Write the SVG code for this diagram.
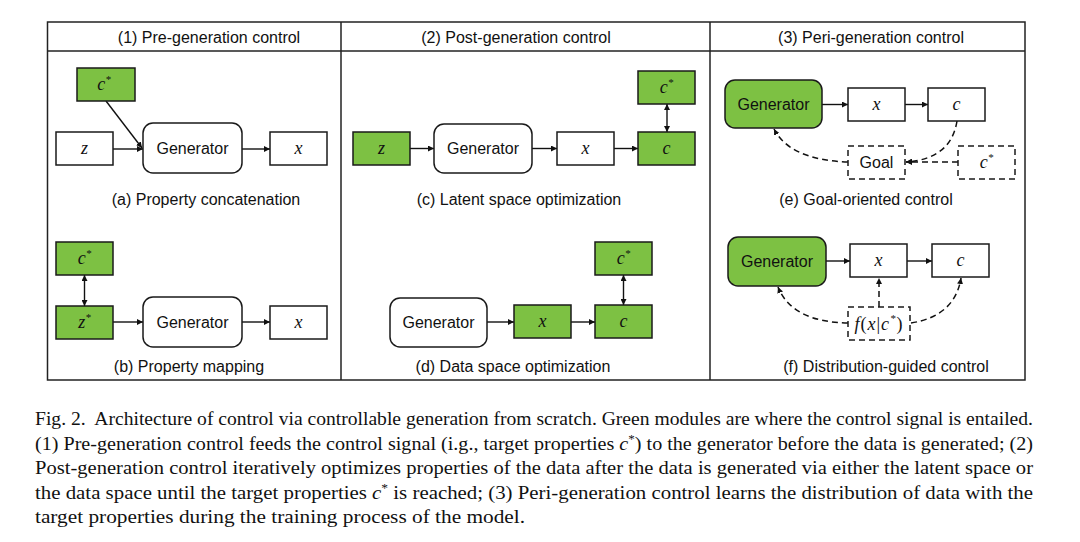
<svg xmlns="http://www.w3.org/2000/svg" width="1080" height="542" viewBox="0 0 1080 542">
<defs>
<marker id="ah" viewBox="0 0 10 10" refX="10" refY="5" markerWidth="6" markerHeight="6" markerUnits="userSpaceOnUse" orient="auto-start-reverse">
<path d="M0,0 L10,5 L0,10 z" fill="#111"/>
</marker>
<style>
.frame{fill:none;stroke:#222;stroke-width:1.5}
.box{fill:#fff;stroke:#1a1a1a;stroke-width:1.5}
.g{fill:#7dc143}
.dash{fill:none;stroke:#1a1a1a;stroke-width:1.5;stroke-dasharray:6 4}
.ln{fill:none;stroke:#111;stroke-width:1.4}
.dl{fill:none;stroke:#111;stroke-width:1.5;stroke-dasharray:6 4}
.t{font-family:"Liberation Sans",Arial,sans-serif;font-size:16px;fill:#111}
.m{font-family:"Liberation Serif","Times New Roman",serif;font-style:italic;font-size:18px;fill:#111}
.cap{font-family:"Liberation Serif","Times New Roman",serif;font-size:18.5px;fill:#111}
</style>
</defs>
<rect x="0" y="0" width="1080" height="542" fill="#fff"/>
<g id="frame">
<rect class="frame" x="47.5" y="22" width="977.5" height="358"/>
<line class="frame" x1="47.5" y1="51" x2="1025" y2="51"/>
<line class="frame" x1="341" y1="22" x2="341" y2="380"/>
<line class="frame" x1="710" y1="22" x2="710" y2="380"/>
<text class="t" x="209" y="43" text-anchor="middle">(1) Pre-generation control</text>
<text class="t" x="516" y="43" text-anchor="middle">(2) Post-generation control</text>
<text class="t" x="871" y="43" text-anchor="middle">(3) Peri-generation control</text>
</g>
<g id="connectors">
<line class="ln" x1="113" y1="149" x2="143" y2="149" marker-end="url(#ah)"/>
<line class="ln" x1="242" y1="149" x2="270" y2="149" marker-end="url(#ah)"/>
<line class="ln" x1="106" y1="101" x2="142" y2="148" marker-end="url(#ah)"/>
<line class="ln" x1="84.5" y1="275" x2="84.5" y2="306" marker-start="url(#ah)" marker-end="url(#ah)"/>
<line class="ln" x1="113" y1="322" x2="143" y2="322" marker-end="url(#ah)"/>
<line class="ln" x1="242" y1="322" x2="270" y2="322" marker-end="url(#ah)"/>
<line class="ln" x1="410" y1="148.5" x2="434" y2="148.5" marker-end="url(#ah)"/>
<line class="ln" x1="532" y1="148.5" x2="557" y2="148.5" marker-end="url(#ah)"/>
<line class="ln" x1="614" y1="148.5" x2="638" y2="148.5" marker-end="url(#ah)"/>
<line class="ln" x1="667" y1="104" x2="667" y2="132" marker-start="url(#ah)" marker-end="url(#ah)"/>
<line class="ln" x1="487" y1="322" x2="514" y2="322" marker-end="url(#ah)"/>
<line class="ln" x1="571" y1="322" x2="595" y2="322" marker-end="url(#ah)"/>
<line class="ln" x1="623.5" y1="275" x2="623.5" y2="305" marker-start="url(#ah)" marker-end="url(#ah)"/>
<line class="ln" x1="822" y1="104.5" x2="848" y2="104.5" marker-end="url(#ah)"/>
<line class="ln" x1="905" y1="104.5" x2="928" y2="104.5" marker-end="url(#ah)"/>
<path class="dl" d="M957,121 Q951,159 906,162" marker-end="url(#ah)"/>
<line class="dl" x1="958" y1="162" x2="906" y2="162" marker-end="url(#ah)"/>
<path class="dl" d="M848,162 Q790,160 774,129" marker-end="url(#ah)"/>
<line class="ln" x1="826" y1="261" x2="850" y2="261" marker-end="url(#ah)"/>
<line class="ln" x1="907" y1="261" x2="932" y2="261" marker-end="url(#ah)"/>
<line class="dl" x1="879" y1="307" x2="879" y2="278" marker-end="url(#ah)"/>
<path class="dl" d="M848,323 Q792,322 778,287" marker-end="url(#ah)"/>
<path class="dl" d="M911,323 Q955,316 961,278" marker-end="url(#ah)"/>
</g>
<g id="a-cstar"><rect class="box g" x="77" y="68" width="58" height="33"/><text class="m" x="104" y="90" text-anchor="middle">c<tspan font-size="11" dy="-7">*</tspan></text></g>
<g id="a-z"><rect class="box" x="56" y="132" width="57" height="33"/><text class="m" x="84.5" y="154" text-anchor="middle">z</text></g>
<g id="a-gen"><rect class="box" x="143" y="123" width="99" height="50" rx="10"/><text class="t" x="192.5" y="154" text-anchor="middle">Generator</text></g>
<g id="a-x"><rect class="box" x="270" y="132" width="57" height="33"/><text class="m" x="298.5" y="154" text-anchor="middle">x</text></g>
<text class="t" x="206" y="205" text-anchor="middle">(a) Property concatenation</text>
<g id="b-cstar"><rect class="box g" x="56" y="242" width="57" height="33"/><text class="m" x="84.5" y="264" text-anchor="middle">c<tspan font-size="11" dy="-7">*</tspan></text></g>
<g id="b-zstar"><rect class="box g" x="56" y="306" width="57" height="33"/><text class="m" x="84.5" y="328" text-anchor="middle">z<tspan font-size="11" dy="-7">*</tspan></text></g>
<g id="b-gen"><rect class="box" x="143" y="297" width="99" height="50" rx="10"/><text class="t" x="192.5" y="328" text-anchor="middle">Generator</text></g>
<g id="b-x"><rect class="box" x="270" y="306" width="57" height="33"/><text class="m" x="298.5" y="328" text-anchor="middle">x</text></g>
<text class="t" x="189" y="372" text-anchor="middle">(b) Property mapping</text>
<g id="c-z"><rect class="box g" x="353" y="132" width="57" height="33"/><text class="m" x="381.5" y="154" text-anchor="middle">z</text></g>
<g id="c-gen"><rect class="box" x="434" y="124" width="98" height="49" rx="10"/><text class="t" x="483" y="154" text-anchor="middle">Generator</text></g>
<g id="c-x"><rect class="box" x="557" y="132" width="57" height="33"/><text class="m" x="585.5" y="154" text-anchor="middle">x</text></g>
<g id="c-c"><rect class="box g" x="638" y="132" width="57" height="33"/><text class="m" x="666.5" y="154" text-anchor="middle">c</text></g>
<g id="c-cstar"><rect class="box g" x="638" y="71" width="57" height="33"/><text class="m" x="666.5" y="93" text-anchor="middle">c<tspan font-size="11" dy="-7">*</tspan></text></g>
<text class="t" x="519" y="205" text-anchor="middle">(c) Latent space optimization</text>
<g id="d-gen"><rect class="box" x="390" y="298" width="97" height="49" rx="10"/><text class="t" x="438.5" y="328" text-anchor="middle">Generator</text></g>
<g id="d-x"><rect class="box g" x="514" y="305" width="57" height="33"/><text class="m" x="542.5" y="327" text-anchor="middle">x</text></g>
<g id="d-c"><rect class="box g" x="595" y="305" width="57" height="33"/><text class="m" x="623.5" y="327" text-anchor="middle">c</text></g>
<g id="d-cstar"><rect class="box g" x="595" y="242" width="57" height="33"/><text class="m" x="623.5" y="264" text-anchor="middle">c<tspan font-size="11" dy="-7">*</tspan></text></g>
<text class="t" x="513" y="372" text-anchor="middle">(d) Data space optimization</text>
<g id="e-gen"><rect class="box g" x="725" y="80" width="97" height="48" rx="10"/><text class="t" x="773.5" y="110" text-anchor="middle">Generator</text></g>
<g id="e-x"><rect class="box" x="848" y="88" width="57" height="33"/><text class="m" x="876.5" y="110" text-anchor="middle">x</text></g>
<g id="e-c"><rect class="box" x="928" y="88" width="57" height="33"/><text class="m" x="956.5" y="110" text-anchor="middle">c</text></g>
<g id="e-goal"><rect class="dash" x="848" y="146" width="57" height="33"/><text class="t" x="876.5" y="168" text-anchor="middle" font-size="17">Goal</text></g>
<g id="e-cstar"><rect class="dash" x="958" y="146" width="57" height="33"/><text class="m" x="986.5" y="168" text-anchor="middle">c<tspan font-size="11" dy="-7">*</tspan></text></g>
<text class="t" x="866" y="205" text-anchor="middle">(e) Goal-oriented control</text>
<g id="f-gen"><rect class="box g" x="728" y="237" width="98" height="49" rx="10"/><text class="t" x="777" y="267" text-anchor="middle">Generator</text></g>
<g id="f-x"><rect class="box" x="850" y="244" width="57" height="33"/><text class="m" x="878.5" y="266" text-anchor="middle">x</text></g>
<g id="f-c"><rect class="box" x="932" y="244" width="57" height="33"/><text class="m" x="960.5" y="266" text-anchor="middle">c</text></g>
<g id="f-dist"><rect class="dash" x="848" y="307" width="62" height="33"/><text class="m" x="879" y="330" text-anchor="middle" font-size="19" letter-spacing="1">f<tspan font-style="normal">(</tspan>x<tspan font-style="normal">|</tspan>c<tspan font-size="11" dy="-8">*</tspan><tspan font-style="normal" dy="8">)</tspan></text></g>
<text class="t" x="886" y="372" text-anchor="middle">(f) Distribution-guided control</text>
<g id="caption">
<text class="cap" x="35" y="425" textLength="998" lengthAdjust="spacingAndGlyphs">Fig. 2.&#160; Architecture of control via controllable generation from scratch. Green modules are where the control signal is entailed.</text>
<text class="cap" x="35" y="449.5" textLength="998" lengthAdjust="spacingAndGlyphs">(1) Pre-generation control feeds the control signal (i.g., target properties <tspan font-style="italic">c</tspan><tspan font-size="12" dy="-7">*</tspan><tspan dy="7">) to the generator before the data is generated; (2)</tspan></text>
<text class="cap" x="35" y="474" textLength="998" lengthAdjust="spacingAndGlyphs">Post-generation control iteratively optimizes properties of the data after the data is generated via either the latent space or</text>
<text class="cap" x="35" y="498.5" textLength="998" lengthAdjust="spacingAndGlyphs">the data space until the target properties <tspan font-style="italic">c</tspan><tspan font-size="12" dy="-7">*</tspan><tspan dy="7"> is reached; (3) Peri-generation control learns the distribution of data with the</tspan></text>
<text class="cap" x="35" y="523" textLength="490" lengthAdjust="spacingAndGlyphs">target properties during the training process of the model.</text>
</g>
</svg>
